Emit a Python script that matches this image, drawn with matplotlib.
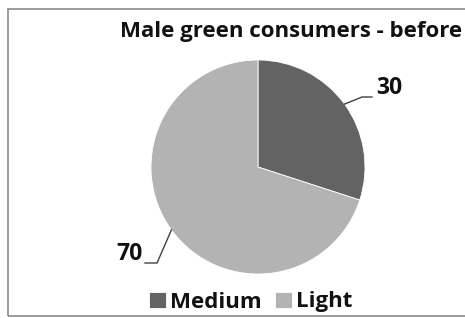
#!/usr/bin/env python3

import numpy as np
import matplotlib
matplotlib.use("Agg")
import matplotlib.pyplot as plt
from matplotlib.patches import Rectangle


TITLE = "Male green consumers - before"
CATEGORIES = ["Medium", "Light"]
VALUES = [30, 70]
COLORS = ["#636363", "#b3b3b3"]

FIG_W, FIG_H = 465, 318
CENTER = (258, 167)
RADIUS = 107


def px_to_data(px, py):
    return (px - CENTER[0]) / RADIUS, (CENTER[1] - py) / RADIUS


def main():
    plt.rcParams["font.family"] = ["Open Sans", "DejaVu Sans"]
    fig = plt.figure(figsize=(FIG_W / 100, FIG_H / 100), dpi=100)
    fig.patch.set_facecolor("white")

    # outer frame (right side is cut in the reference)
    fig.patches.append(Rectangle((8 / FIG_W, 2 / FIG_H), 1.2, (316 - 9) / FIG_H,
                                 transform=fig.transFigure, fill=False,
                                 edgecolor="#8a8a8a", linewidth=1.2))

    ax = fig.add_axes([(CENTER[0] - RADIUS) / FIG_W,
                       (FIG_H - CENTER[1] - RADIUS) / FIG_H,
                       2 * RADIUS / FIG_W, 2 * RADIUS / FIG_H])
    wedges, _ = ax.pie(VALUES, colors=COLORS, startangle=90, counterclock=False,
                       radius=1.0, wedgeprops={"linewidth": 0.6, "edgecolor": "white"})
    ax.set_xlim(-1, 1)
    ax.set_ylim(-1, 1)
    ax.set_aspect("equal")
    ax.axis("off")

    # data labels with leader lines
    label_layout = [
        # elbow px, end px, text anchor px, ha
        ((362, 97), (372, 97), (376, 88), "left"),
        ((157, 263), (145, 263), (143, 254), "right"),
    ]
    for wedge, value, (elbow, end, txt, ha) in zip(wedges, VALUES, label_layout):
        mid = np.deg2rad((wedge.theta1 + wedge.theta2) / 2)
        start = (np.cos(mid), np.sin(mid))
        ex, ey = px_to_data(*elbow)
        nx, ny = px_to_data(*end)
        ax.plot([start[0], ex, nx], [start[1], ey, ny], color="#404040",
                linewidth=1.0, clip_on=False)
        tx, ty = px_to_data(*txt)
        ax.text(tx, ty, str(value), ha=ha, va="center", fontsize=16.5,
                fontweight="bold", color="#111111", clip_on=False)

    fig.text(291 / FIG_W, 1 - 31 / FIG_H, TITLE, ha="center", va="center",
             fontsize=16, fontweight="bold", color="#111111")

    leg = fig.legend(wedges, CATEGORIES, loc="center", bbox_to_anchor=(251 / FIG_W, 1 - 302 / FIG_H),
                     ncol=2, frameon=False, handlelength=0.75, handleheight=0.7,
                     handletextpad=0.2, columnspacing=0.6, borderaxespad=0,
                     prop={"size": 16, "weight": "bold"})
    for t in leg.get_texts():
        t.set_color("#111111")

    fig.savefig("out.png", dpi=100, facecolor="white")


if __name__ == "__main__":
    main()
